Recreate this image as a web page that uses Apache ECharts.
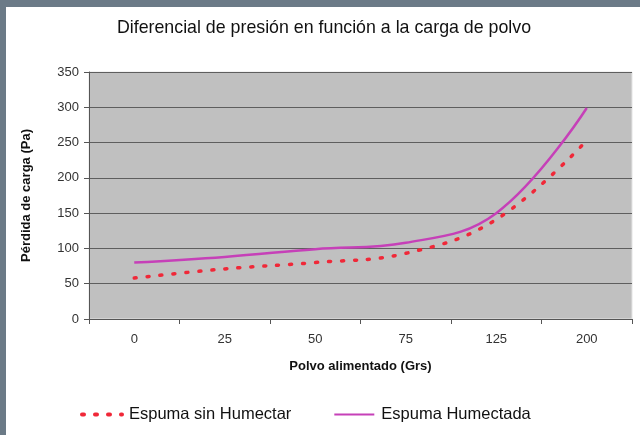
<!DOCTYPE html>
<html>
<head>
<meta charset="utf-8">
<script src="https://cdn.jsdelivr.net/npm/echarts@6/dist/echarts.min.js"></script>
<style>
html,body{margin:0;padding:0;background:#fff;}
#chart{width:640px;height:435px;}
</style>
</head>
<body>
<div id="chart"></div>
<script>
const categories = ['0', '25', '50', '75', '125', '200'];
const sinHumectar = [58, 71, 80, 93, 141, 253];
const humectada = [80, 88, 99, 108, 150, 299];
const yTicks = { min: 0, max: 350, interval: 50 };

const chart = echarts.init(document.getElementById('chart'), null, { renderer: 'canvas' });
const font = '"Liberation Sans", Arial, sans-serif';
chart.setOption({
  backgroundColor: '#ffffff',
  animation: false,
  graphic: [
    { type: 'rect', left: 0, top: 0, shape: { width: 640, height: 7 }, style: { fill: '#6b7a87' }, z: 100 },
    { type: 'rect', left: 0, top: 0, shape: { width: 6, height: 435 }, style: { fill: '#6b7a87' }, z: 100 }
  ],
  title: {
    text: 'Diferencial de presión en función a la carga de polvo',
    left: 319, top: 14, textAlign: 'center',
    textStyle: { fontFamily: font, fontSize: 17.8, fontWeight: 'normal', color: '#111' }
  },
  grid: {
    left: 89, right: 8, top: 72, bottom: 116,
    show: true, backgroundColor: '#c0c0c0', borderColor: '#e4e4e4', borderWidth: 1
  },
  legend: {
    bottom: 7, left: 75,
    itemWidth: 40, itemHeight: 12, itemGap: 42,
    itemStyle: { opacity: 0 },
    textStyle: { fontFamily: font, fontSize: 16.5, color: '#111', padding: [0, 0, 0, 2] },
    data: [
      { name: 'Espuma sin Humectar', lineStyle: { width: 4 } },
      { name: 'Espuma Humectada', lineStyle: { width: 2 } }
    ]
  },
  xAxis: {
    type: 'category', data: categories, boundaryGap: true,
    name: 'Polvo alimentado (Grs)', nameLocation: 'middle', nameGap: 41,
    nameTextStyle: { fontFamily: font, fontSize: 13, fontWeight: 'bold', color: '#111' },
    axisLine: { lineStyle: { color: '#555', width: 1 } },
    axisTick: { show: true, interval: 0, length: 5, lineStyle: { color: '#555' } },
    axisLabel: { fontFamily: font, fontSize: 13, color: '#333', margin: 14 }
  },
  yAxis: {
    type: 'value', min: yTicks.min, max: yTicks.max, interval: yTicks.interval,
    name: 'Pérdida de carga (Pa)', nameLocation: 'middle', nameGap: 56,
    nameTextStyle: { fontFamily: font, fontSize: 13, fontWeight: 'bold', color: '#111' },
    axisLine: { show: true, lineStyle: { color: '#555', width: 1 } },
    axisTick: { show: true, length: 5, lineStyle: { color: '#555' } },
    axisLabel: { fontFamily: font, fontSize: 13, color: '#333', margin: 10 },
    splitLine: { lineStyle: { color: '#5e5e5e', width: 1.2 } }
  },
  series: [
    {
      name: 'Espuma sin Humectar', type: 'line', data: sinHumectar,
      smooth: 0.4, symbol: 'none',
      lineStyle: { color: '#f02838', width: 3.5, type: [2, 11], cap: 'round' },
      itemStyle: { color: '#f02838' }
    },
    {
      name: 'Espuma Humectada', type: 'line', data: humectada,
      smooth: 0.4, symbol: 'none',
      lineStyle: { color: '#c640b8', width: 2.5 },
      itemStyle: { color: '#c640b8' }
    }
  ]
});
</script>
</body>
</html>
